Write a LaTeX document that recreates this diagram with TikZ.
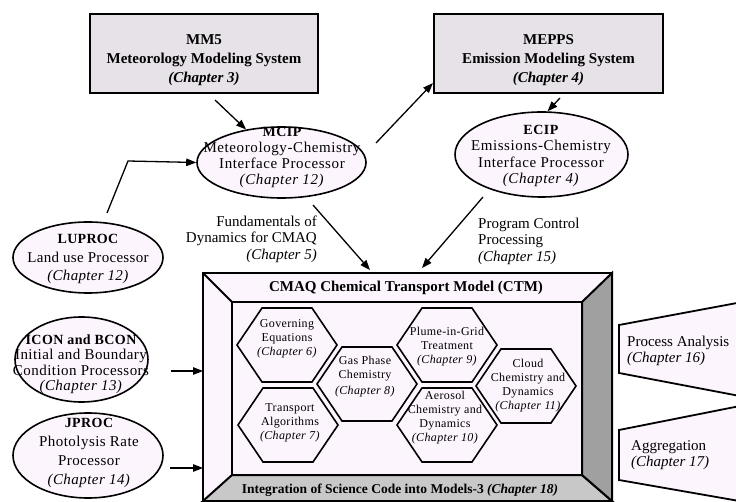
\documentclass[tikz,border=0pt]{standalone}
\usepackage{fontspec}
\setmainfont{Liberation Serif}
\usetikzlibrary{shapes.geometric,arrows.meta,calc}
\definecolor{pinkfill}{HTML}{FDF5FD}
\definecolor{boxfill}{HTML}{E6E2E8}
\definecolor{bandgray}{HTML}{C8C8C8}
\definecolor{sidegray}{HTML}{A0A0A0}
\newcommand\ttl[1]{{\fontsize{14}{16}\selectfont\bfseries #1}}
\newcommand\hexat[1]{\draw[hexline] ($(#1)+(-50,0)$) -- ++(25,-37) -- ++(50,0) -- ++(25,37) -- ++(-25,37) -- ++(-50,0) -- cycle;}
\begin{document}
\begin{tikzpicture}[x=1pt,y=-1pt,
  sysbox/.style={draw, line width=2.2pt, fill=boxfill, inner sep=0pt, rectangle},
  ell/.style={ellipse, draw, line width=1.6pt, fill=pinkfill, inner sep=0pt},
  arr/.style={line width=1.3pt, -{Triangle[length=10pt,width=7.5pt]}},
  boxtxt/.style={align=center, font=\fontsize{15}{19}\selectfont\bfseries, inner sep=0pt},
  elltxt/.style={align=center, inner sep=0pt},
  plaintxt/.style={font=\fontsize{15}{16.5}\selectfont, inner sep=0pt},
  hexline/.style={draw, line width=1.6pt, fill=pinkfill, line join=miter},
  hextxt/.style={align=center, font=\fontsize{12}{14}\selectfont\addfontfeature{LetterSpace=3}, inner sep=0pt},
  frame/.style={draw, line width=2pt, line join=miter},
  ctmtxt/.style={font=\fontsize{15}{17}\selectfont\bfseries, inner sep=0pt},
  outshape/.style={draw, line width=1.8pt, fill=pinkfill, line join=miter}
]
\useasboundingbox (0,0) rectangle (736,502);
\fill[white] (0,0) rectangle (736,502);
\clip (0,0) rectangle (736,502);

% ---------- CTM frame ----------
\node[frame, fill=pinkfill, minimum width=409, minimum height=228, inner sep=0pt, outer sep=0pt, anchor=north west] (ctm) at (203,273) {};
\node[inner sep=0pt, outer sep=0pt, minimum width=350, minimum height=173, anchor=north west] (inner) at (232,302) {};
\filldraw[frame, fill=bandgray] (ctm.south west) -- (inner.south west) -- (inner.south east) -- (ctm.south east) -- cycle;
\filldraw[frame, fill=sidegray] (inner.north east) -- (ctm.north east) -- (ctm.south east) -- (inner.south east) -- cycle;
\draw[frame] (ctm.north west) -- (inner.north west);
\draw[frame] (inner.north west) rectangle (inner.south east);
\draw[frame] (ctm.north west) rectangle (ctm.south east);

\node[ctmtxt] (ctmtitle) at (406,288) {CMAQ Chemical Transport Model (CTM)};
\node[ctmtxt, font=\fontsize{13.5}{15}\selectfont\bfseries] (integ) at (400,490) {Integration of Science Code into Models-3 \textit{(Chapter 18)}};

% ---------- hexagons ----------
\coordinate (hgov) at (287,345);
\coordinate (htra) at (288,425);
\coordinate (hgas) at (367,384);
\coordinate (hplu) at (447,345);
\coordinate (haer) at (447,425);
\coordinate (hclo) at (526,386);
\hexat{hgov}
\hexat{htra}
\hexat{hgas}
\hexat{hplu}
\hexat{haer}
\hexat{hclo}
\node[hextxt] (gov) at (287,339) {Governing\\Equations\\\textit{(Chapter 6)}};
\node[hextxt] (tra) at (290,423) {Transport\\Algorithms\\\textit{(Chapter 7)}};
\node[hextxt] (gas) at (365,377) {Gas Phase\\Chemistry\\[2pt]\textit{(Chapter 8)}};
\node[hextxt] (plu) at (447,347) {Plume-in-Grid\\Treatment\\\textit{(Chapter 9)}};
\node[hextxt] (aer) at (445,418) {Aerosol\\Chemistry and\\Dynamics\\\textit{(Chapter 10)}};
\node[hextxt] (clo) at (528,386) {Cloud\\Chemistry and\\Dynamics\\\textit{(Chapter 11)}};

% ---------- system boxes ----------
\node[sysbox, minimum width=228, minimum height=79] (mm5) at (204,53.5) {};
\node[boxtxt] (mm5t) at (204,60) {MM5\\Meteorology Modeling System\\\textit{(Chapter 3)}};
\node[sysbox, minimum width=229, minimum height=79] (mepps) at (548.5,53.5) {};
\node[boxtxt] (meppst) at (548.5,60) {MEPPS\\Emission Modeling System\\\textit{(Chapter 4)}};

% ---------- ellipses ----------
\node[ell, minimum width=169, minimum height=71] (mcip) at (281.5,162.5) {};
\node[elltxt, font=\fontsize{15}{16}\selectfont\addfontfeature{LetterSpace=4}] (mcipt) at (282,157) {\ttl{MCIP}\\Meteorology-Chemistry\\Interface Processor\\\textit{(Chapter 12)}};
\node[ell, minimum width=173, minimum height=85] (ecip) at (541.5,154.5) {};
\node[elltxt, font=\fontsize{15}{16.5}\selectfont\addfontfeature{LetterSpace=4}] (ecipt) at (541,156) {\ttl{ECIP}\\Emissions-Chemistry\\Interface Processor\\\textit{(Chapter 4)}};
\node[ell, minimum width=150, minimum height=71] (lup) at (88,257.5) {};
\node[elltxt, font=\fontsize{15}{18.5}\selectfont\addfontfeature{LetterSpace=2}] (lupt) at (88,259) {\ttl{LUPROC}\\Land use Processor\\\textit{(Chapter 12)}};
\node[ell, minimum width=133, minimum height=85] (icon) at (81.5,359.5) {};
\node[elltxt, font=\fontsize{15}{15.5}\selectfont\addfontfeature{LetterSpace=3}] (icont) at (81,364) {\ttl{ICON and BCON}\\Initial and Boundary\\Condition Processors\\\textit{(Chapter 13)}};
\node[ell, minimum width=150, minimum height=85] (jproc) at (88,455.5) {};
\node[elltxt, font=\fontsize{15}{19}\selectfont\addfontfeature{LetterSpace=3}] (jproct) at (89,453) {\ttl{JPROC}\\Photolysis Rate\\Processor\\\textit{(Chapter 14)}};

% ---------- free texts ----------
\node[plaintxt, align=right, anchor=east] (fund) at (317,239) {Fundamentals of\\Dynamics for CMAQ\\\textit{(Chapter 5)}};
\node[plaintxt, align=left, anchor=west] (prog) at (478,241) {Program Control\\Processing\\\textit{(Chapter 15)}};

% ---------- output shapes ----------
\draw[outshape] (619,325) -- (745,301.5) -- (745,397) -- (619,373) -- cycle;
\draw[outshape] (619,430) -- (745,405) -- (745,502) -- (619,480) -- cycle;
\node[plaintxt, align=left, anchor=west] (pa) at (627,351) {Process Analysis\\\textit{(Chapter 16)}};
\node[plaintxt, align=left, anchor=west] (ag) at (631,455) {Aggregation\\\textit{(Chapter 17)}};

% ---------- connectors ----------
\coordinate (s1) at (215,100);
\coordinate (s2) at (376,143);
\coordinate (s3) at (560,98);
\coordinate (s4) at (107,213);
\coordinate (b4) at (128,161);
\coordinate (s5) at (313,205);
\coordinate (s6) at (483,197);
\coordinate (s7) at (171,371);
\coordinate (s8) at (170,468);
\draw[arr] (s1) -- (mcip.137);
\draw[arr] (s2) -- ($(mepps.south west)+(0,-11)$);
\draw[arr] (s3) -- (ecip.82);
\draw[arr] (s4) -- (b4) -- (mcip.west);
\draw[arr] (s5) -- ($(ctm.north west)+(167,-3)$);
\draw[arr] (s6) -- ($(ctm.north west)+(219,-5)$);
\draw[arr] (s7) -- ($(ctm.north west)+(0,98)$);
\draw[arr] (s8) -- ($(ctm.north west)+(0,195)$);
\end{tikzpicture}
\end{document}
